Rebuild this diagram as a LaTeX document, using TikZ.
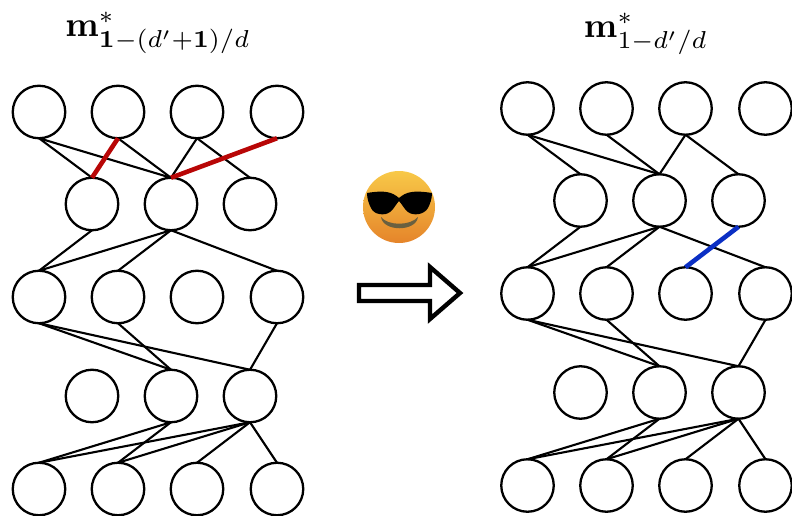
\documentclass[tikz,border=0pt]{standalone}
\usetikzlibrary{shapes.geometric}
\definecolor{redge}{HTML}{B80606}
\definecolor{bedge}{HTML}{0B2FC4}
\definecolor{emtop}{HTML}{F8C948}
\definecolor{emmid}{HTML}{F4B236}
\definecolor{embot}{HTML}{E5842A}
\definecolor{emsmile}{HTML}{6A6040}
\tikzset{
  unit/.style={circle,draw=black,line width=2.3pt,minimum size=52.5pt,inner sep=0pt,outer sep=0pt,fill=white},
  link/.style={draw=black,line width=2.1pt,line cap=round},
  redlink/.style={draw=redge,line width=4.6pt},
  bluelink/.style={draw=bedge,line width=4.6pt},
  title/.style={inner sep=0pt,scale=3.5}
}
\newcommand{\panel}[3]{% prefix, x offset, y offset
  \begin{scope}[shift={(#2,#3)}]
    \foreach \n/\x/\y in {a1/39/112,a2/118/112,a3/197/112,a4/277/112,
                          b1/92/204,b2/171/204,b3/250/204,
                          c1/39/297,c2/118/297,c3/197/297,c4/277/297,
                          d1/92/396,d2/171/396,d3/250/396,
                          e1/39/489,e2/118/489,e3/197/489,e4/277/489}
      \node[unit] (#1\n) at (\x,\y) {};
  \end{scope}
  \foreach \s/\t in {a1/b1,a1/b2,a2/b2,a3/b2,a3/b3,
                     b1/c1,b2/c1,b2/c2,b2/c4,
                     c1/d2,c1/d3,c2/d2,c4/d3,
                     d2/e1,d2/e2,d3/e1,d3/e2,d3/e3,d3/e4}
    \draw[link] (#1\s.south) -- (#1\t.north);
}
\begin{document}
\begin{tikzpicture}[x=1pt,y=-1pt]
\useasboundingbox (0,0) rectangle (792,516);
\panel{L}{0}{0}
\panel{R}{488.5}{-3.5}
\draw[redlink] (La2.south) -- (Lb1.north);
\draw[redlink] (La4.south) -- (Lb2.north);
\draw[bluelink] (Rb3.south) -- (Rc3.north);
\node[title] (ltitle) at (158,33) {$\mathbf{m}^*_{\mathbf{1}-(d'+\mathbf{1})/d}$};
\node[title] (rtitle) at (646,34) {$\mathbf{m}^*_{1-d'/d}$};
% emoji
\shade[top color=emtop,middle color=emmid,bottom color=embot] (399,207) circle (36);
\fill[black] (367,193) .. controls (385,190) and (392,192) .. (399,198)
  .. controls (406,192) and (413,190) .. (432,193)
  .. controls (432,199) and (430,204) .. (428,208)
  .. controls (424,215) and (413,216) .. (408,212)
  .. controls (404,209) and (402,204) .. (399,201)
  .. controls (396,204) and (394,209) .. (390,212)
  .. controls (385,216) and (374,215) .. (371,208)
  .. controls (369,204) and (367,199) .. (367,193) -- cycle;
\fill[emsmile] (381,217) .. controls (388,226) and (410,226) .. (418,217)
  .. controls (416,232) and (383,232) .. (381,217) -- cycle;
% arrow
\draw[black,line width=4.4pt,fill=white,miter limit=10]
  (359,285) -- (430,285) -- (430,267) -- (460,293) -- (430,319) -- (430,301) -- (359,301) -- cycle;
\end{tikzpicture}
\end{document}
